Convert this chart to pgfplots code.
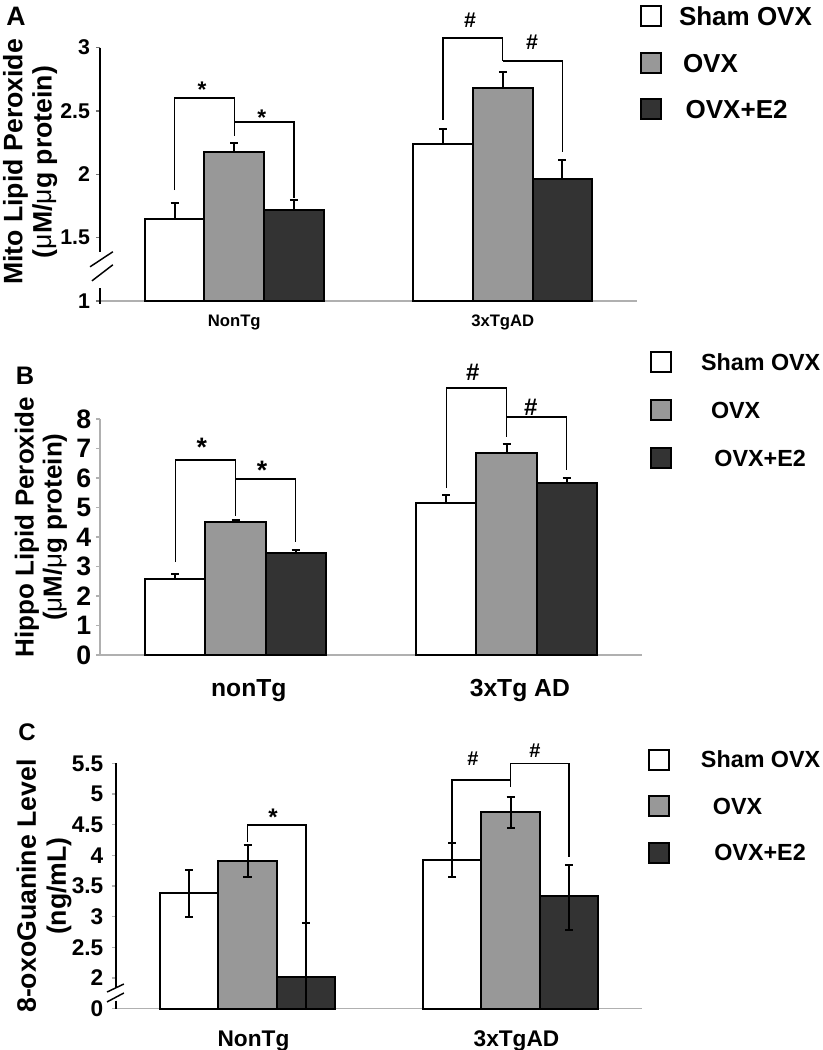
\documentclass[border=0pt]{standalone}
\usepackage{pgfplots}
\pgfplotsset{compat=1.18}
\usepackage{fontspec}
\setmainfont{Liberation Sans}
\definecolor{cgray}{HTML}{989898}
\definecolor{cdark}{HTML}{333333}
\definecolor{axgray}{HTML}{B0B0B0}
\newcommand\fsz[2]{\fontsize{#1}{#2}\selectfont\bfseries}
\pgfplotsset{
  panel/.style={
    scale only axis, ybar=0pt, bar width=0.222,
    xmin=-0.5, xmax=1.5, clip=false,
    separate axis lines, axis x line*=bottom, axis y line*=left,
    x axis line style={axgray, line width=0.9pt},
    xtick={0,1}, xtick style={draw=none},
    extra x ticks={-0.5,0.5,1.5}, extra x tick labels={},
    extra x tick style={tick style={axgray, line width=0.9pt}},
    tick align=outside, major tick length=3pt,
    legend cell align=left,
  },
  barsP/.style={draw=black, line width=1.5pt, fill=#1,
    error bars/.cd, y dir=plus, y explicit,
    error bar style={line width=1.5pt, black},
    error mark options={rotate=90, mark size=3pt, line width=1.5pt, black}},
  barsB/.style={draw=black, line width=1.5pt, fill=#1,
    error bars/.cd, y dir=both, y explicit,
    error bar style={line width=1.5pt, black},
    error mark options={rotate=90, mark size=3pt, line width=1.5pt, black}},
}
\tikzset{brk/.style={line width=1.1pt, black},
  sig/.style={inner sep=0pt, font=\fsz{#1}{#1}}}
\begin{document}
\begin{tikzpicture}
\path[use as bounding box] (0,0) rectangle (616.5pt,-787.5pt);
\node[font=\fsz{20pt}{20pt}] at (12pt,-12pt) {A};
\node[font=\fsz{19pt}{19pt}] at (18.75pt,-282pt) {B};
\node[font=\fsz{18pt}{18pt}] at (20.25pt,-549pt) {C};

% ---------------- Panel A
\begin{axis}[panel,
  at={(75pt,-225.75pt)}, anchor=south west,
  width=402.75pt, height=190pt,
  ymin=1, ymax=3,
  ytick={1,1.5,2,2.5,3}, yticklabels={1,1.5,2,2.5,3},
  ytick style={black!55, line width=0.8pt},
  yticklabel style={font=\fsz{16pt}{16pt}, xshift=-1pt},
  y axis line style={draw=none},
  xticklabels={NonTg,3xTgAD},
  xticklabel style={font=\fsz{12.5pt}{12.5pt}, yshift=-4pt},
  legend style={at={(1.0056,0.94)}, anchor=west, draw=none, fill=none,
    inner sep=0pt, outer sep=0pt, row sep=18.4pt, column sep=12.75pt,
    font=\fsz{19.5pt}{19.5pt}, nodes={inner sep=0pt, text height=14pt, text depth=0pt}},
  legend image code/.code={\draw[#1,/tikz/.cd,line width=1.5pt] (0pt,-7.5pt) rectangle (15pt,7.5pt);},
]
\addplot[barsP=white] coordinates {(0,1.65) +- (0,0.12) (1,2.24) +- (0,0.12)};
\addplot[barsP=cgray] coordinates {(0,2.18) +- (0,0.07) (1,2.68) +- (0,0.13)};
\addplot[barsP=cdark] coordinates {(0,1.72) +- (0,0.074) (1,1.96) +- (0,0.15)};
\legend{Sham OVX,\hspace{3pt}OVX,\hspace{5pt}OVX+E2}
\draw[line width=1.1pt] (axis cs:-0.5,3) -- (axis cs:-0.5,1.39);
\draw[line width=1.1pt] (axis cs:-0.5,1.10) -- (axis cs:-0.5,0.98);
\draw[line width=1.1pt] (axis cs:-0.537,1.27) -- (axis cs:-0.452,1.389);
\draw[line width=1.1pt] (axis cs:-0.530,1.159) -- (axis cs:-0.452,1.286);
\draw[brk] (axis cs:-0.222,1.876) |- (axis cs:0,2.603) -- (axis cs:0,2.303);
\draw[brk] (axis cs:0,2.413) -| (axis cs:0.222,1.813);
\draw[brk] (axis cs:0.778,2.429) |- (axis cs:1,3.077) -- (axis cs:1,2.895);
\draw[brk] (axis cs:1,2.895) -| (axis cs:1.222,2.176);
\node[sig=17pt, yshift=-3pt] at (axis cs:-0.12,2.70) {*};
\node[sig=17pt, yshift=-3pt] at (axis cs:0.103,2.48) {*};
\node[sig=16pt] at (axis cs:0.878,3.22) {\#};
\node[sig=16pt] at (axis cs:1.109,3.04) {\#};
\node[rotate=90, align=center, font=\fsz{20pt}{22pt}] at (axis description cs:-0.130,0.549)
  {Mito Lipid Peroxide\\({\mdseries μ}M/{\mdseries μ}g protein)};
\end{axis}

% ---------------- Panel B
\begin{axis}[panel,
  at={(75pt,-491.25pt)}, anchor=south west,
  width=406.5pt, height=177pt,
  ymin=0, ymax=8,
  ytick={0,1,2,3,4,5,6,7,8}, yticklabels={0,1,2,3,4,5,6,7,8},
  ytick style={axgray, line width=0.8pt},
  yticklabel style={font=\fsz{20pt}{20pt}},
  y axis line style={axgray, line width=0.9pt},
  xticklabels={nonTg,3xTg AD},
  xticklabel style={font=\fsz{18.5pt}{18.5pt}, yshift=-12pt, xshift=10pt},
  legend style={at={(1.0148,1.038)}, anchor=west, draw=none, fill=none,
    inner sep=0pt, outer sep=0pt, row sep=19.5pt, column sep=21.75pt,
    font=\fsz{17.5pt}{17.5pt}, nodes={inner sep=0pt, text height=12.5pt, text depth=0pt}},
  legend image code/.code={\draw[#1,/tikz/.cd,line width=1.5pt] (0pt,-7.5pt) rectangle (15pt,7.5pt);},
]
\addplot[barsP=white] coordinates {(0,2.59) +- (0,0.14) (1,5.16) +- (0,0.26)};
\addplot[barsP=cgray] coordinates {(0,4.51) +- (0,0.07) (1,6.86) +- (0,0.29)};
\addplot[barsP=cdark] coordinates {(0,3.47) +- (0,0.08) (1,5.82) +- (0,0.17)};
\legend{Sham OVX,\hspace{7.5pt}OVX,\hspace{10pt}OVX+E2}
\draw[brk] (axis cs:-0.222,3.15) |- (axis cs:0,6.61) -- (axis cs:0,4.71);
\draw[brk] (axis cs:0,5.97) -| (axis cs:0.222,3.83);
\draw[brk] (axis cs:0.778,5.66) |- (axis cs:1,9.05) -- (axis cs:1,7.39);
\draw[brk] (axis cs:1,8.07) -| (axis cs:1.222,6.27);
\node[sig=20pt, yshift=-3.5pt] at (axis cs:-0.124,7.19) {*};
\node[sig=20pt, yshift=-3.5pt] at (axis cs:0.098,6.41) {*};
\node[sig=18pt] at (axis cs:0.876,9.59) {\#};
\node[sig=18pt] at (axis cs:1.09,8.41) {\#};
\node[rotate=90, align=center, font=\fsz{19.5pt}{21pt}] at (axis description cs:-0.109,0.542)
  {Hippo Lipid Peroxide\\({\mdseries μ}M/{\mdseries μ}g protein)};
\end{axis}

% ---------------- Panel C
\begin{axis}[panel,
  at={(87pt,-756.5pt)}, anchor=south west,
  width=394.5pt, height=184pt,
  ymin=1.5, ymax=5.5,
  ytick={1.5,2,2.5,3,3.5,4,4.5,5,5.5}, yticklabels={0,2,2.5,3,3.5,4,4.5,5,5.5},
  ytick style={axgray, line width=0.8pt},
  yticklabel style={font=\fsz{17pt}{17pt}, xshift=-3pt},
  y axis line style={draw=none},
  xticklabels={NonTg,3xTgAD},
  xticklabel style={font=\fsz{17pt}{17pt}, yshift=-10pt, xshift=4.5pt},
  legend style={at={(1.0114,0.826)}, anchor=west, draw=none, fill=none,
    inner sep=0pt, outer sep=0pt, row sep=18.4pt, column sep=23.25pt,
    font=\fsz{17.5pt}{17.5pt}, nodes={inner sep=0pt, text height=12.5pt, text depth=0pt}},
  legend image code/.code={\draw[#1,/tikz/.cd,line width=1.5pt] (0pt,-7.5pt) rectangle (15pt,7.5pt);},
]
\addplot[barsB=white] coordinates {(0,3.39) += (0,0.37) -= (0,0.39) (1,3.92) += (0,0.28) -= (0,0.28)};
\addplot[barsB=cgray] coordinates {(0,3.91) += (0,0.26) -= (0,0.27) (1,4.71) += (0,0.24) -= (0,0.27)};
\addplot[barsB=cdark] coordinates {(0,2.01) += (0,0.88) -= (0,0.51) (1,3.33) += (0,0.51) -= (0,0.54)};
\legend{Sham OVX,\hspace{9pt}OVX,\hspace{10pt}OVX+E2}
\draw[line width=1.1pt] (axis cs:-0.5,5.5) -- (axis cs:-0.5,1.84);
\draw[line width=1.1pt] (axis cs:-0.5,1.63) -- (axis cs:-0.5,1.5);
\draw[line width=1.1pt] (axis cs:-0.534,1.772) -- (axis cs:-0.47,1.902);
\draw[line width=1.1pt] (axis cs:-0.534,1.61) -- (axis cs:-0.47,1.756);
\draw[brk] (axis cs:0,4.217) |- (axis cs:0.222,4.494) -- (axis cs:0.222,2.89);
\draw[brk] (axis cs:0.778,4.20) |- (axis cs:1,5.227);
\draw[brk] (axis cs:1,5.113) -- (axis cs:1,5.50) -| (axis cs:1.222,3.97);
\node[sig=18pt, yshift=-3pt] at (axis cs:0.097,4.69) {*};
\node[sig=15pt] at (axis cs:0.857,5.58) {\#};
\node[sig=15pt] at (axis cs:1.093,5.71) {\#};
\node[rotate=90, align=center, font=\fsz{20pt}{22.5pt}] at (axis description cs:-0.137,0.5)
  {8-oxoGuanine Level\\(ng/mL)};
\end{axis}
\end{tikzpicture}
\end{document}
